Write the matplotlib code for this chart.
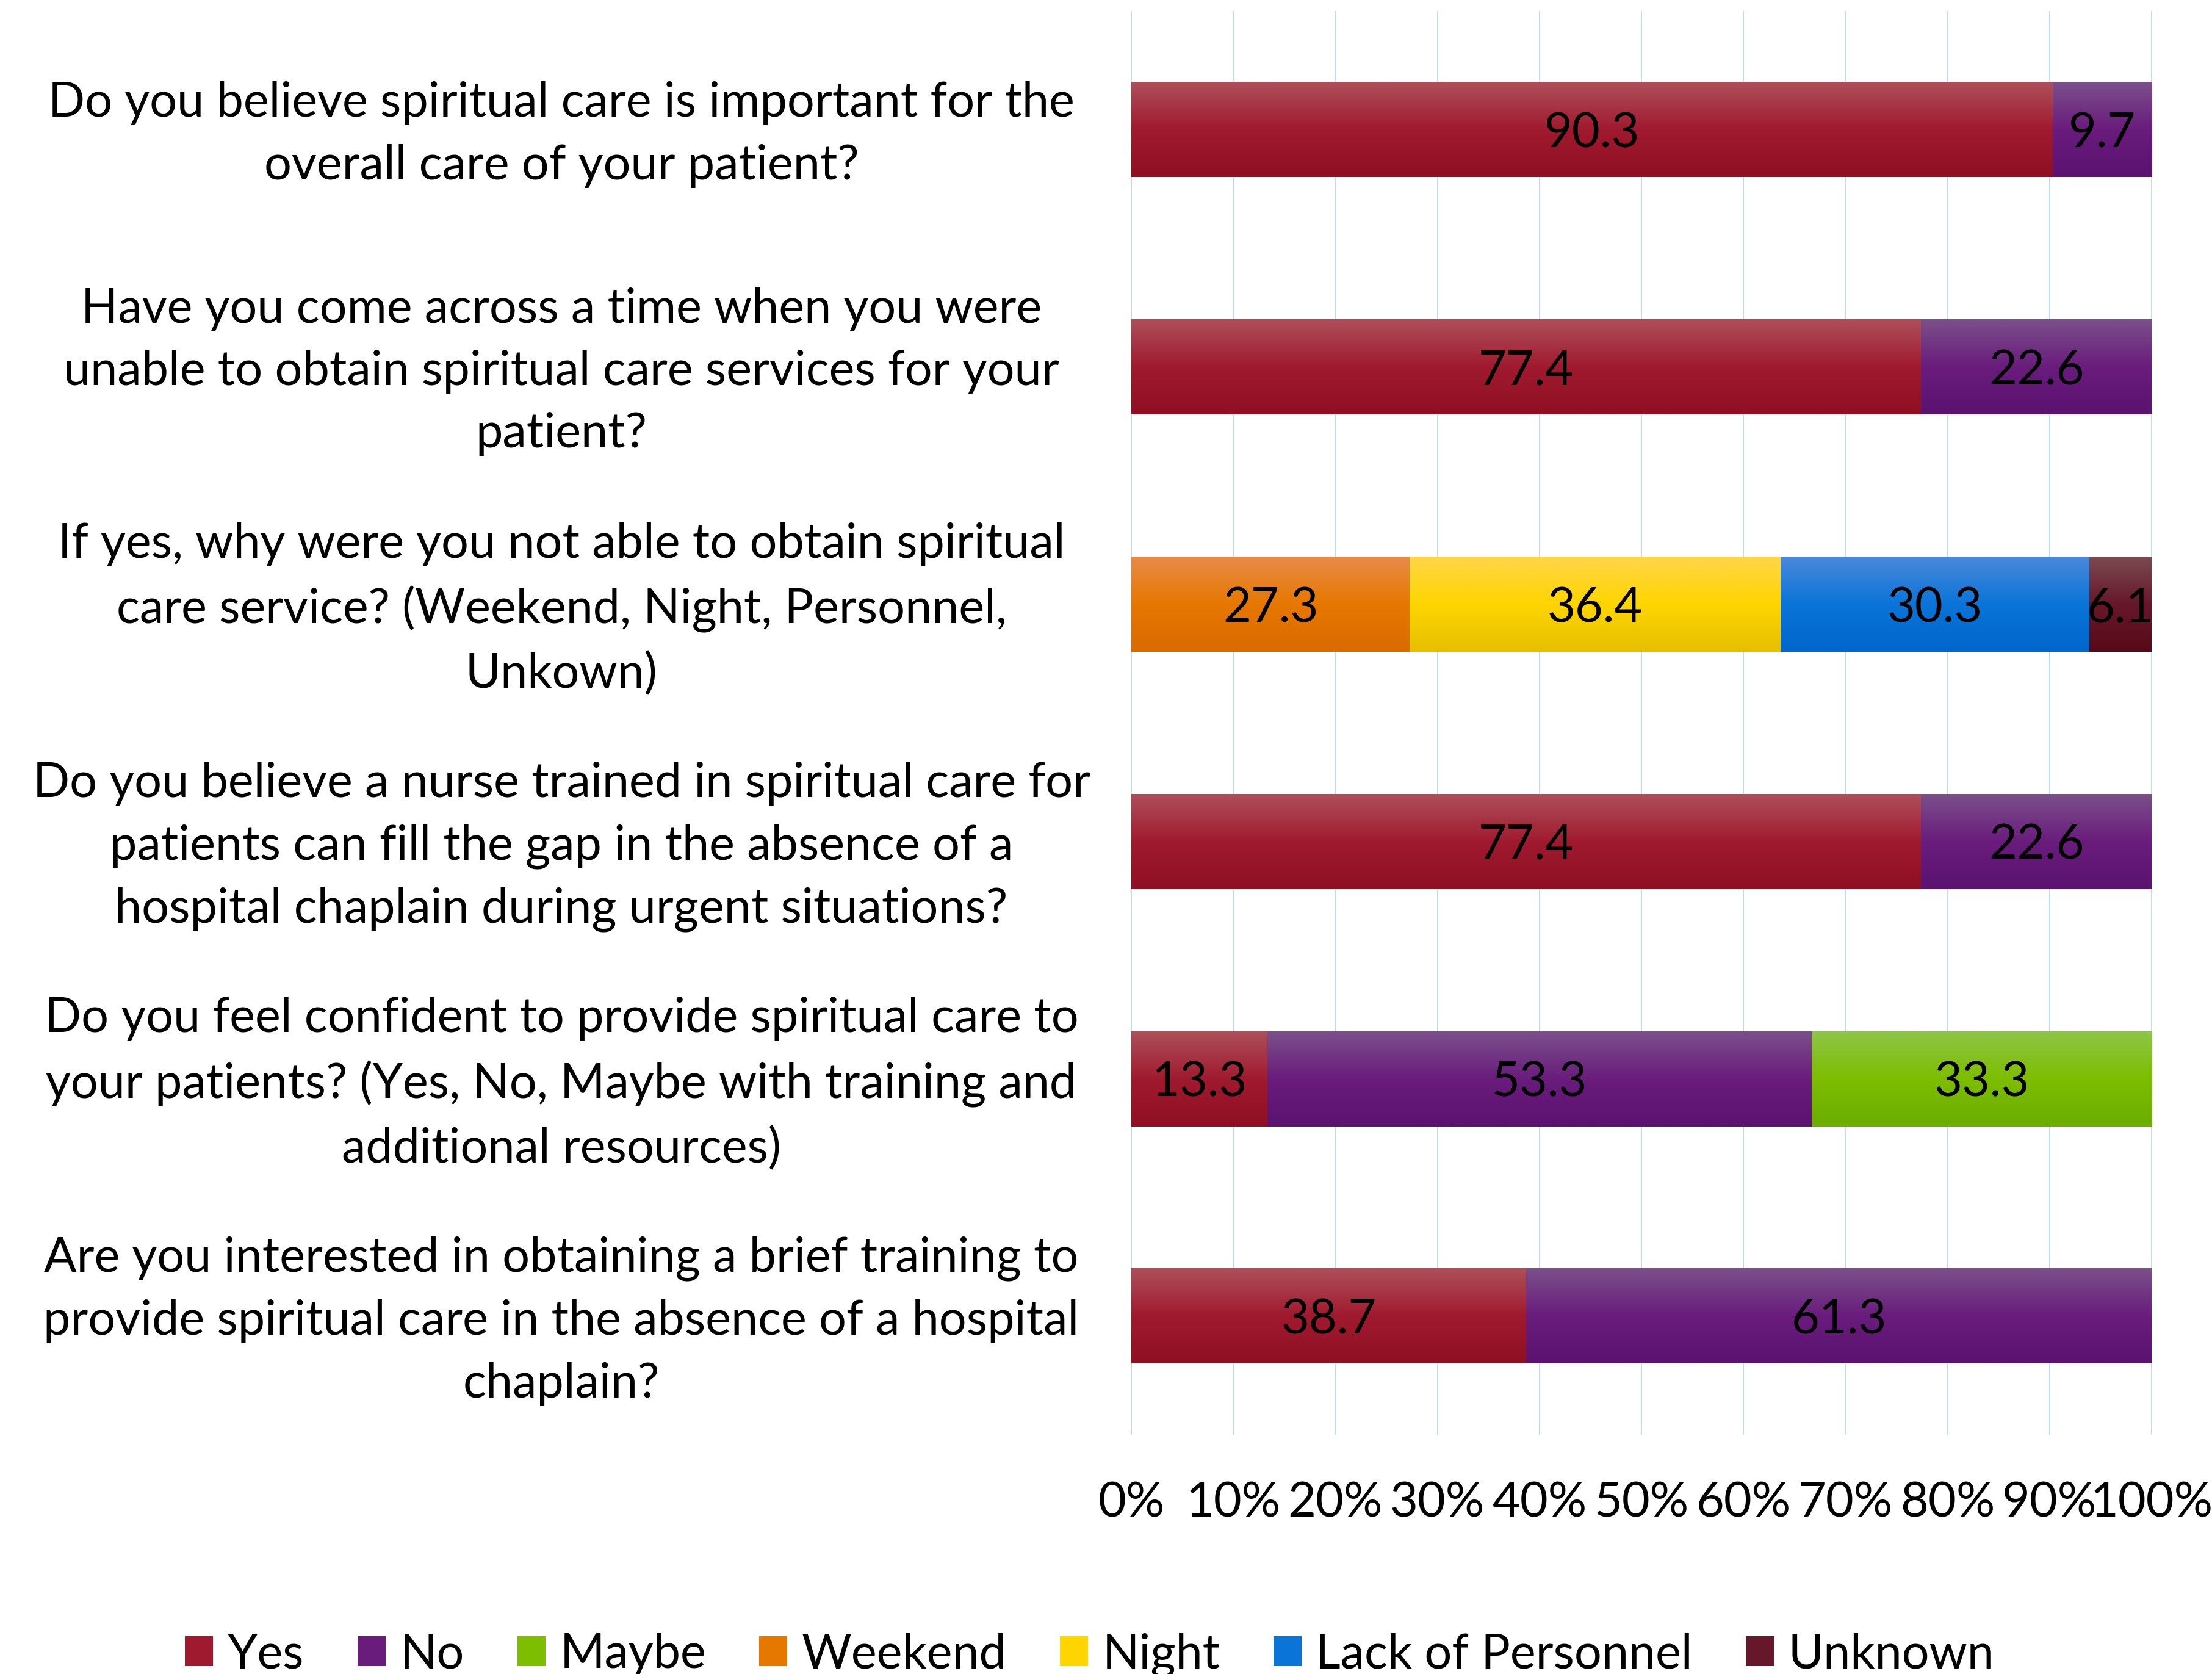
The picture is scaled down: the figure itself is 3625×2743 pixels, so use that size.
import numpy as np
import matplotlib
matplotlib.use("Agg")
import matplotlib.pyplot as plt
import matplotlib.transforms as mtransforms
from matplotlib.colors import LinearSegmentedColormap
from matplotlib.patches import Patch

questions = [
    "Do you believe spiritual care is important for the\noverall care of your patient?",
    "Have you come across a time when you were\nunable to obtain spiritual care services for your\npatient?",
    "If yes, why were you not able to obtain spiritual\ncare service? (Weekend, Night, Personnel,\nUnkown)",
    "Do you believe a nurse trained in spiritual care for\npatients can fill the gap in the absence of a\nhospital chaplain during urgent situations?",
    "Do you feel confident to provide spiritual care to\nyour patients? (Yes, No, Maybe with training and\nadditional resources)",
    "Are you interested in obtaining a brief training to\nprovide spiritual care in the absence of a hospital\nchaplain?",
]
series_names = ["Yes", "No", "Maybe", "Weekend", "Night", "Lack of Personnel", "Unknown"]
yes = [90.3, 77.4, 0, 77.4, 13.3, 38.7]
no = [9.7, 22.6, 0, 22.6, 53.3, 61.3]
maybe = [0, 0, 0, 0, 33.3, 0]
weekend = [0, 0, 27.3, 0, 0, 0]
night = [0, 0, 36.4, 0, 0, 0]
lack = [0, 0, 30.3, 0, 0, 0]
unknown = [0, 0, 6.1, 0, 0, 0]
tick_labels = ["0%", "10%", "20%", "30%", "40%", "50%", "60%", "70%", "80%", "90%", "100%"]

# gradient stops (top, middle, bottom) per series
grad = {
    "Yes": ("#AD4F5A", "#A01A2F", "#900F22"),
    "No": ("#7B4F8A", "#691C7C", "#5B1270"),
    "Maybe": ("#8EC447", "#7DBE00", "#6BAD00"),
    "Weekend": ("#E88B48", "#E67800", "#DB6A00"),
    "Night": ("#FFD548", "#FFD500", "#E5C000"),
    "Lack of Personnel": ("#4A88DA", "#0A74D8", "#0066CC"),
    "Unknown": ("#7A4A50", "#66172A", "#580A18"),
}

FONT = ["Lato", "DejaVu Sans"]
FS = 57
plt.rcParams["font.family"] = FONT

W, H = 3625, 2743
fig = plt.figure(figsize=(W / 100, H / 100), dpi=100)
ax = fig.add_axes([1854 / W, 1 - 2351 / H, (3526 - 1854) / W, (2351 - 18) / H])

data = [yes, no, maybe, weekend, night, lack, unknown]
arr = np.array(data, dtype=float)
totals = arr.sum(axis=0)
pct = arr / totals * 100.0

y = np.arange(len(questions))
left = np.zeros(len(questions))
containers = []
for name, vals, raw in zip(series_names, pct, arr):
    c = ax.barh(y, vals, left=left, height=0.4, color=grad[name][1], linewidth=0, zorder=2)
    containers.append((name, c, raw))
    left += vals

ax.set_xlim(0, 100)
ax.set_ylim(len(questions) - 0.5, -0.5)

gvals = np.linspace(0, 1, 64).reshape(-1, 1)
for name, c, raw in containers:
    cmap = LinearSegmentedColormap.from_list(name, [(0, grad[name][0]), (0.5, grad[name][1]), (1, grad[name][2])])
    for p, v in zip(c.patches, raw):
        if v <= 0:
            continue
        x0, y0, w, h = p.get_x(), p.get_y(), p.get_width(), p.get_height()
        ax.imshow(gvals, cmap=cmap, aspect="auto", extent=(x0, x0 + w, y0 + h, y0),
                  origin="upper", zorder=2.5, interpolation="bilinear")
    texts = ax.bar_label(c, labels=[f"{v:.1f}" if v > 0 else "" for v in raw], label_type="center",
                         fontsize=FS, color="black", zorder=5)
    for t in texts:
        t.xyann = (0, -5)

ax.set_xlim(0, 100)
ax.set_ylim(len(questions) - 0.5, -0.5)

ax.set_xticks(np.arange(0, 101, 10))
ax.set_xticklabels(tick_labels, fontsize=FS)
ax.xaxis.grid(True, color="#C0DAF3", linewidth=1.4, zorder=0)
ax.set_axisbelow(True)
ax.tick_params(axis="x", length=0, pad=55)
ax.set_yticks(y)
ax.set_yticklabels(questions, fontsize=FS, ha="center", linespacing=1.52)
ax.tick_params(axis="y", length=0, pad=(1854 - 920) * 0.72)
up = mtransforms.ScaledTranslation(0, 0.14, fig.dpi_scale_trans)
for lbl in ax.get_yticklabels():
    lbl.set_transform(lbl.get_transform() + up)
for s in ax.spines.values():
    s.set_visible(False)

handles = [Patch(facecolor=grad[n][1], edgecolor="none") for n in series_names]
fig.legend(handles, series_names, loc="center", bbox_to_anchor=(1786 / W, 1 - 2712 / H),
           ncol=7, frameon=False, fontsize=FS, handlelength=0.58, handleheight=0.58,
           handletextpad=0.3, columnspacing=1.1)

fig.savefig("out.png", dpi=100)
